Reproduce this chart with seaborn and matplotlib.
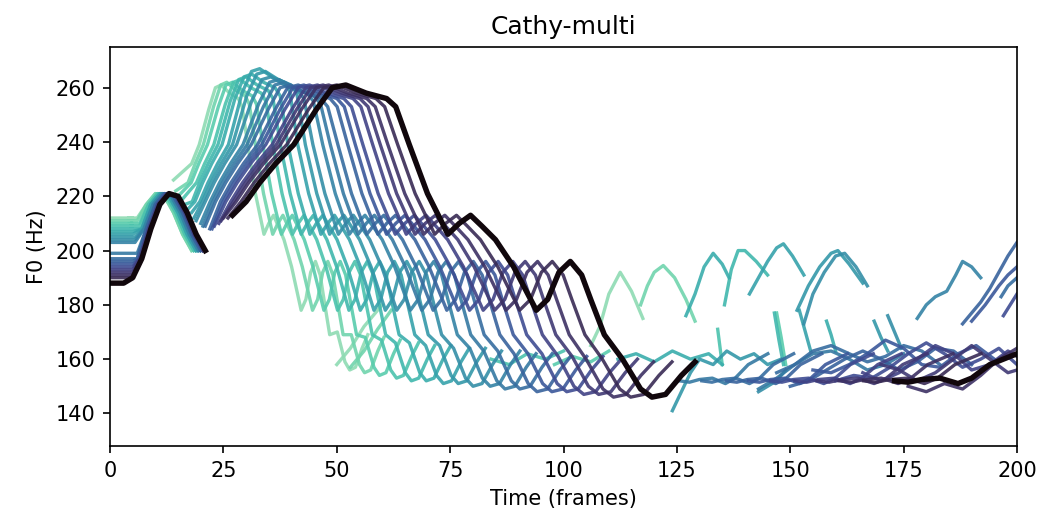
import numpy as np
import pandas as pd
import matplotlib
matplotlib.use("Agg")
import matplotlib.pyplot as plt
import seaborn as sns

# -----------------------------------------------
# DATA
# -----------------------------------------------

N_LINES = 20  # index 0 = lightest, 19 = the thick dark reference

# first voiced bump, frames 0-21 (reference shape)
SEG_A_T = [0, 3, 5, 7, 9, 11, 13, 15, 17, 19, 21]
SEG_A_HZ = [188, 188, 190, 197, 208, 217, 221, 220, 214, 206, 200]
START_HZ = [212, 211, 210, 209, 208, 207, 206, 205, 204, 203,
            199, 197, 196, 195, 194, 193, 192, 191, 190, 188]
A_SHIFT = [-3, -3, -2.5, -2.5, -2, -2, -2, -1.5, -1.5, -1.5,
           -1, -1, -1, -0.5, -0.5, -0.5, 0, 0, 0, 0]

# main voiced stretch of the reference contour
SEG_B_T = [27, 30, 33, 36.5, 40.5, 45.5, 49, 52, 56.5, 61, 63, 66, 70, 74.5, 77, 79.5,
           82, 85, 89, 94, 96.5, 99, 101.5, 104, 106, 109, 113, 117, 119.5, 122.5, 126, 129]
SEG_B_HZ = [213, 218, 225, 232, 239, 252, 260, 261, 258, 256, 253, 239, 221, 206, 210, 213,
            209, 204, 194, 178, 182, 192, 196, 191, 182, 169, 160, 149, 146, 147, 154, 159]

# last voiced stretch of the reference contour
SEG_C_T = [173, 176, 179, 183, 187, 190, 194, 197, 200]
SEG_C_HZ = [152, 151.5, 152.5, 153, 151, 153, 158, 160, 162]

# per rendition: start frame of the main stretch, its speed, first value,
# extra height at the top and extra height at the low end
B_START = [14, 14.5, 15, 16, 16.5, 17, 18, 18.5, 19, 20,
           20.5, 21, 22, 22.5, 23, 24, 24.5, 25, 26, 27]
B_STRETCH = [0.42, 0.45, 0.48, 0.51, 0.54, 0.57, 0.60, 0.63, 0.66, 0.69,
             0.72, 0.75, 0.78, 0.81, 0.84, 0.87, 0.90, 0.93, 0.96, 1.00]
B_FIRST_HZ = [226, 222, 220, 219, 217, 215, 214, 212, 211, 210,
              209, 209, 208, 208, 209, 210, 211, 212, 212, 213]
B_TOP_ADD = [0, 1, 1, 2, 3, 4, 6, 5, 3, 2, 1, 0, 0, 0, 0, 0, 0, 0, 0, 0]
B_LOW_ADD = [10, 9, 8, 7, 6, 6, 5, 5, 4, 4, 3, 3, 2, 2, 2, 1, 1, 0, 0, 0]
FIRST_C_LINE = 10  # lighter renditions show no last stretch

# loose pieces seen in the right half (arcs, short strokes, low wiggles)
EXTRA_LINE = [0, 1, 0, 1, 5, 4, 6, 7, 8, 9, 12, 13, 11, 14,
              3, 4, 2, 6, 5, 7, 8,
              10, 11, 12, 13, 14, 15, 16, 17, 7, 5, 8, 3, 2]
EXTRA_T = [
    [50, 53, 56, 60],
    [53, 56, 59, 62],
    [106, 108, 110, 112.5, 115, 117.5],
    [117, 118.5, 120, 122, 124.5, 127, 129],
    [127, 129, 131, 133, 135, 136.5],
    [135.5, 137, 138.5, 140, 142.5, 145],
    [141, 143, 145, 147, 148.5, 150.5, 153],
    [151.5, 154, 156.5, 159, 160.5, 163, 166],
    [153, 155, 157.5, 160, 162, 164.5, 167],
    [178, 180, 182, 184.5, 186.5, 188, 190, 192],
    [188, 190, 192, 194, 196, 198, 200],
    [190, 193, 196, 198, 200],
    [196.5, 198, 200],
    [197, 198.5, 200],
    [134, 135],
    [146.5, 147.5, 148.5],
    [147, 148, 149],
    [152, 153, 154.5],
    [158, 159, 160],
    [168.5, 170, 171.5],
    [171.5, 173, 174.5],
    [143, 147, 151, 155, 159, 163, 167, 171, 175],
    [147, 151, 155, 159, 163, 167, 171, 175, 179, 183],
    [150, 154, 158, 162, 166, 170, 174, 178, 182, 186, 190],
    [155, 159, 163, 167, 171, 175, 179, 183, 187, 191, 195],
    [160, 164, 168, 172, 176, 180, 184, 188, 192, 196, 200],
    [166, 170, 174, 178, 182, 186, 190, 194, 198, 200],
    [170, 174, 178, 182, 186, 190, 194, 198, 200],
    [176, 180, 184, 188, 192, 196, 200],
    [124, 126, 128, 130, 133, 136, 139, 142, 145, 148],
    [112, 116, 120, 124, 128, 132, 135],
    [143, 145, 147, 149],
    [84, 88, 92, 96, 100],
    [98, 102, 106, 110],
]
EXTRA_HZ = [
    [158, 164, 172, 180],
    [157, 163, 171, 178],
    [165, 172, 184, 192, 185, 175],
    [180, 187, 192, 194.5, 190, 182, 174],
    [176, 184, 194, 199, 195, 190],
    [180, 193, 200, 200, 196, 191],
    [184, 190, 196, 201, 202.5, 198, 191],
    [178, 187, 194, 199, 200, 195, 188],
    [173, 184, 192, 198, 199, 194, 187],
    [175, 180, 183, 185, 191, 196, 194, 190],
    [173, 177, 181, 186, 192, 198, 203],
    [174, 180, 187, 191, 194],
    [183, 187, 190],
    [176, 180, 184],
    [171, 158],
    [177, 167, 158],
    [177, 168, 158],
    [178, 172, 163],
    [174, 169, 163],
    [174, 168, 163],
    [176, 170, 164],
    [149, 153, 158, 162, 163, 160, 156, 158, 162],
    [155, 158, 163, 165, 162, 159, 161, 165, 163, 158],
    [150, 152, 156, 160, 163, 160, 156, 159, 164, 163, 158],
    [156, 155, 158, 162, 167, 164, 158, 157, 162, 165, 160],
    [152, 154, 153, 157, 162, 166, 162, 157, 160, 164, 158],
    [155, 152, 155, 160, 165, 162, 156, 158, 163, 161],
    [158, 156, 152, 155, 160, 165, 160, 155, 156],
    [150, 148, 151, 149, 154, 160, 164],
    [141, 148, 155, 160, 158, 163, 160, 162, 158, 160],
    [160, 162, 159, 163, 160, 162, 158],
    [148, 150, 152, 156],
    [160, 158, 162, 160, 163],
    [158, 161, 159, 163],
]

# -----------------------------------------------
# LONG TABLE FOR SEABORN
# -----------------------------------------------

rows = []
piece = 0


def add_piece(line, t, hz):
    global piece
    for a, b in zip(t, hz):
        rows.append({"frame": a, "hz": b, "line": line, "piece": piece})
    piece += 1


ta_ref = np.array(SEG_A_T, dtype=float)
tb_ref = np.array(SEG_B_T, dtype=float)
hb_ref = np.array(SEG_B_HZ, dtype=float)
idx_b = np.arange(len(SEG_B_T))
for i in range(N_LINES):
    ta = ta_ref + np.where(ta_ref >= 7, A_SHIFT[i], 0)
    ha = np.where(ta_ref <= 13, np.maximum(SEG_A_HZ, START_HZ[i]), SEG_A_HZ)
    add_piece(i, ta, ha)

    tb = B_START[i] + B_STRETCH[i] * (tb_ref - SEG_B_T[0])
    hb = hb_ref.copy()
    hb[0] = B_FIRST_HZ[i]
    hb[hb >= 250] += B_TOP_ADD[i]
    hb[tb_ref >= 113] += B_LOW_ADD[i]
    # a rendition that starts high skips the low part of the rise
    keep = (idx_b == 0) | (idx_b >= 6) | (hb > B_FIRST_HZ[i])
    add_piece(i, tb[keep], hb[keep])

    if i >= FIRST_C_LINE:
        tc = B_START[i] + B_STRETCH[i] * (np.array(SEG_C_T) - SEG_B_T[0])
        add_piece(i, tc, SEG_C_HZ)

for line, t, hz in zip(EXTRA_LINE, EXTRA_T, EXTRA_HZ):
    add_piece(line, t, hz)

df = pd.DataFrame(rows)

cmap = sns.color_palette("mako", as_cmap=True)
colors = {i: cmap(0.86 - 0.66 * i / (N_LINES - 2)) for i in range(N_LINES - 1)}
colors[N_LINES - 1] = cmap(0.02)

# -----------------------------------------------
# PLOT
# -----------------------------------------------

fig = plt.figure(figsize=(1042 / 150, 518 / 150), dpi=150)
ax = fig.add_axes([0.1056, 0.139, 0.8704, 0.7703])

thin = df[df["line"] < N_LINES - 1]
sns.lineplot(data=thin, x="frame", y="hz", hue="line", units="piece",
             estimator=None, sort=False, palette=colors, legend=False,
             lw=1.6, alpha=0.9, solid_joinstyle="round", ax=ax)
ref = df[df["line"] == N_LINES - 1]
sns.lineplot(data=ref, x="frame", y="hz", units="piece", estimator=None,
             sort=False, color=colors[N_LINES - 1], lw=2.6,
             solid_joinstyle="round", ax=ax)

ax.set_xlim(0, 200)
ax.set_ylim(128, 275)
ax.set_yticks([140, 160, 180, 200, 220, 240, 260])
ax.set_title("Cathy-multi")
ax.set_xlabel("Time (frames)")
ax.set_ylabel("F0 (Hz)")

fig.savefig("out.png", dpi=150)
